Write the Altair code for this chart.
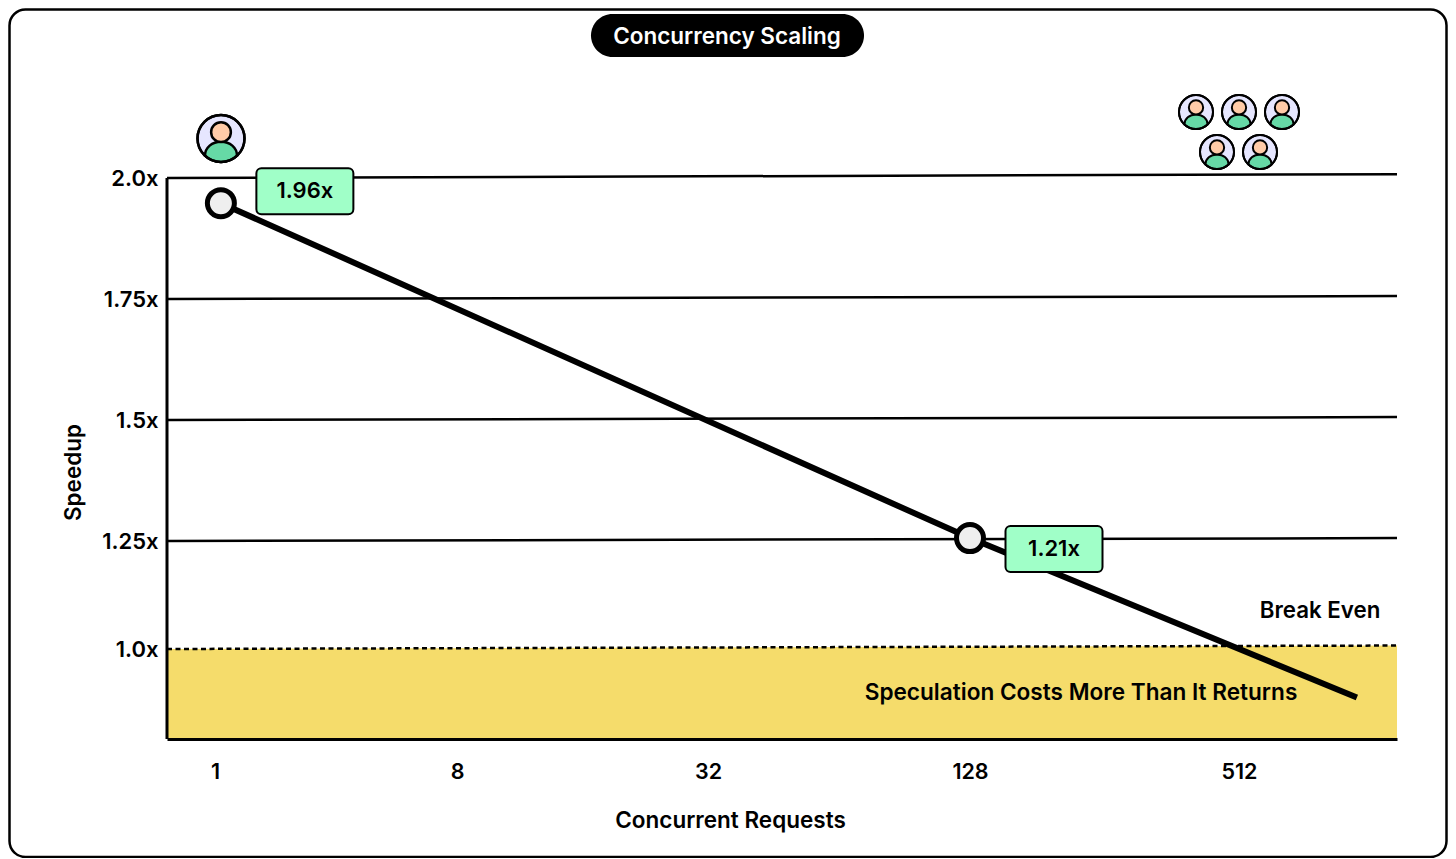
import altair as alt

# --- values ---
x_ticks = [1, 8, 32, 128, 512]
y_ticks = [1.0, 1.25, 1.5, 1.75, 2.0]

line_x = [1.17, 128, 894]
line_y = [1.948, 1.256, 0.887]
marker_x = [1.17, 128]
marker_y = [1.948, 1.256]
marker_tags = ["1.96x", "1.21x"]

grid_left = [1.0, 1.25, 1.5, 1.75, 2.0]
grid_right = [1.008, 1.256, 1.506, 1.756, 2.008]
x_min, x_max = 0, 1024
y_base = 0.79

# scale stops (axis is not evenly spaced in the picture)
x_stops = [0, 1, 8, 32, 128, 512, 1024]
x_px = [0, 48, 290, 541, 803, 1072, 1230]
y_stops = [0.79, 1.0, 1.25, 1.5, 1.75, 2.0, 2.351]
y_px = [731, 641, 533, 412, 291, 170, 0]

FONT = "Inter"
W, H = 1230, 731
LEFT, TOP = 159, 0

xs = alt.Scale(domain=x_stops, range=x_px, nice=False, zero=False)
ys = alt.Scale(domain=y_stops, range=y_px, nice=False, zero=False)

label_expr = "{'1':'1.0x','1.25':'1.25x','1.5':'1.5x','1.75':'1.75x','2':'2.0x'}[''+datum.value]"

x_axis = alt.Axis(values=x_ticks, title="Concurrent Requests", grid=False, ticks=False, domain=True,
                  domainColor="black", domainWidth=3, labelFont=FONT, labelFontSize=21.5, labelFontWeight=600,
                  labelColor="black", labelPadding=22, labelFlush=False, labelOverlap=False, format="d",
                  titleFont=FONT, titleFontSize=22.5, titleFontWeight=600, titleColor="black",
                  titleX=563, titleY=81, titleBaseline="middle", titleAlign="center", zindex=1)
y_axis = alt.Axis(values=y_ticks, title="Speedup", grid=False, ticks=False, domain=False,
                  labelFont=FONT, labelFontSize=22, labelFontWeight=600, labelColor="black",
                  labelPadding=9, labelExpr=label_expr, labelOverlap=False, labelBaseline="middle",
                  titleFont=FONT, titleFontSize=22.5, titleFontWeight=600, titleColor="black",
                  titleX=-94, titleY=464, titleAngle=270, titleBaseline="middle", titleAlign="center")

X = lambda f="x:Q": alt.X(f, scale=xs, axis=x_axis)
Y = lambda f="y:Q": alt.Y(f, scale=ys, axis=y_axis)

# yellow band up to the break-even line
band_data = alt.Data(values=[
    {"x": x_min, "y": grid_left[0], "b": y_base},
    {"x": x_max, "y": grid_right[0], "b": y_base},
])
band = alt.Chart(band_data).mark_area(color="#F5DC6B", opacity=1, interpolate="linear").encode(
    x=X(), y=Y(), y2="b:Q")
dash_line = alt.Chart(band_data).mark_line(color="black", strokeWidth=2.5, strokeDash=[5, 3.5]).encode(
    x=X(), y=Y())

# grid
grid_data = alt.Data(values=[
    {"x": x_min, "x2": x_max, "y": a, "y2": b} for a, b in zip(grid_left[1:], grid_right[1:])
])
grid = alt.Chart(grid_data).mark_rule(stroke="black", strokeWidth=2.5).encode(
    x=X(), x2="x2:Q", y=Y(), y2="y2:Q")

# left axis spine
spine = alt.Chart(alt.Data(values=[{"a": grid_left[-1], "b": y_base}])).mark_rule(
    stroke="black", strokeWidth=3).encode(
    x=alt.value(0), y=Y("a:Q"), y2="b:Q")

# main series
line_data = alt.Data(values=[{"x": a, "y": b} for a, b in zip(line_x, line_y)])
line = alt.Chart(line_data).mark_line(color="black", strokeWidth=6, strokeCap="butt").encode(
    x=X(), y=Y())
marker_data = alt.Data(values=[{"x": a, "y": b, "t": t} for a, b, t in zip(marker_x, marker_y, marker_tags)])
markers = alt.Chart(marker_data).mark_point(filled=True, fill="#EFEFEF", stroke="black", strokeWidth=5,
                                            size=729, opacity=1).encode(x=X(), y=Y())

layers = [band, grid, spine, dash_line, line, markers]

# tags beside the two markers
for i, (dx, dy) in enumerate([(84, -12), (84, 11)]):
    d = alt.Data(values=[{"x": marker_x[i], "y": marker_y[i], "t": marker_tags[i]}])
    layers.append(alt.Chart(d).mark_rect(width=97, height=46, xOffset=dx, yOffset=dy, fill="#A0FFC8",
                                         stroke="black", strokeWidth=2, cornerRadius=5).encode(x=X(), y=Y()))
    layers.append(alt.Chart(d).mark_text(xOffset=dx, yOffset=dy, font=FONT, fontSize=22, fontWeight=600,
                                         color="black", align="center", baseline="middle").encode(
        text="t:N", x=X(), y=Y()))

one = alt.Data(values=[{"k": 0}])
def px(v):
    return alt.value(v - LEFT - 8)
def py(v):
    return alt.value(v - TOP - 8)

def note(txt, x, y, size, color="black"):
    return alt.Chart(one).mark_text(text=txt, font=FONT, fontSize=size, fontWeight=600, color=color,
                                    align="center", baseline="middle").encode(x=px(x), y=py(y))

layers.append(note("Break Even", 1320, 610.5, 22.3))
layers.append(note("Speculation Costs More Than It Returns", 1081, 693, 22.6))

# title pill
pill = alt.Chart(one).mark_rect(fill="black", cornerRadius=21.5).encode(
    x=px(591), x2=px(864), y=py(14), y2=py(57))
layers.append(pill)
layers.append(note("Concurrency Scaling", 727, 36.5, 22.5, "white"))

# person icons
BODY = "M-0.68,0.73 C-0.68,0.38 -0.38,0.14 0,0.14 C0.38,0.14 0.68,0.38 0.68,0.73 A1,1,0,0,1,-0.68,0.73 Z"
HEAD = "M-0.42,-0.27 A0.42,0.42,0,1,1,0.42,-0.27 A0.42,0.42,0,1,1,-0.42,-0.27 Z"
RING = "M-1,0 A1,1,0,1,1,1,0 A1,1,0,1,1,-1,0 Z"
def icon(cx, cy, r, sw):
    out = []
    for shape, fill in [(RING, "#E6E6FF"), (BODY, "#66D9A6"), (HEAD, "#FFCBA8"), (RING, "none")]:
        kw = dict(shape=shape, size=(2 * r) ** 2, stroke="black", strokeWidth=sw, opacity=1)
        if fill == "none":
            kw.update(filled=False)
        else:
            kw.update(filled=True, fill=fill)
        out.append(alt.Chart(one).mark_point(**kw).encode(x=px(cx), y=py(cy)))
    return out

layers += icon(221, 138.5, 23.5, 2.5)
for cx, cy in [(1196, 112), (1239, 112), (1282, 112), (1217, 152), (1260, 152)]:
    layers += icon(cx, cy, 17, 2)

# outer frame
frame = alt.Chart(one).mark_rect(fill=None, stroke="black", strokeWidth=2.5, cornerRadius=16).encode(
    x=px(9.5), x2=px(1446.5), y=py(9.5), y2=py(857))
layers.append(frame)

chart = alt.layer(*layers).properties(
    width=W, height=H,
    padding={"left": LEFT, "top": TOP, "right": 1440 - LEFT - W, "bottom": 850 - H},
    autosize=alt.AutoSizeParams(type="none"),
    background="white",
).configure_view(stroke=None)

chart.save("out.html", embed_options={"renderer": "svg", "actions": False})
